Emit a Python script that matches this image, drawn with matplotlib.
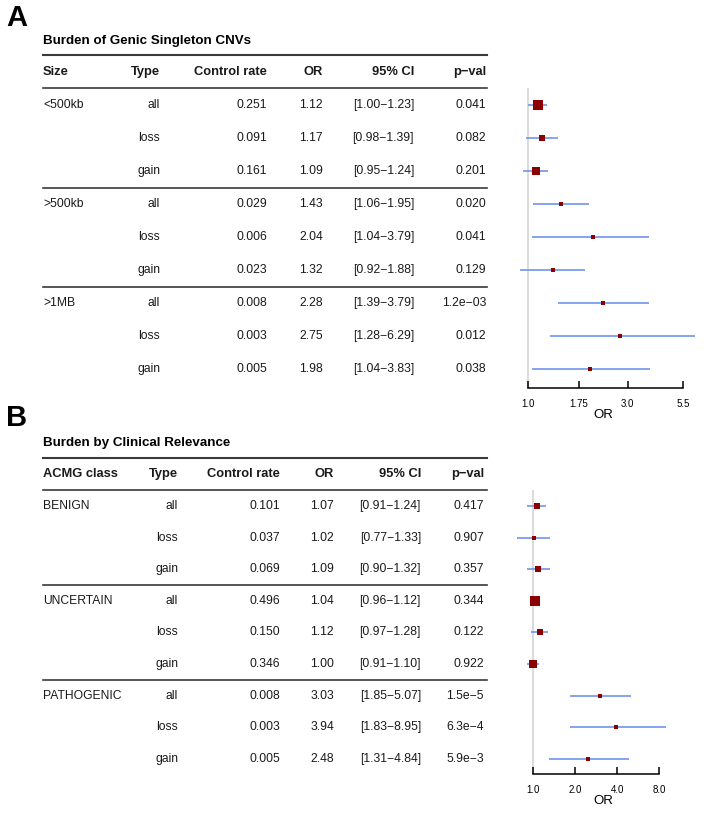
import numpy as np
import matplotlib
matplotlib.use("Agg")
import matplotlib.pyplot as plt

plt.rcParams['font.family'] = ['Liberation Sans', 'DejaVu Sans']

# ---- panel A data ----
a_groups = ["<500kb", ">500kb", ">1MB"]
a_types = ["all", "loss", "gain"] * 3
a_rate = ["0.251", "0.091", "0.161", "0.029", "0.006", "0.023", "0.008", "0.003", "0.005"]
a_or = [1.12, 1.17, 1.09, 1.43, 2.04, 1.32, 2.28, 2.75, 1.98]
a_lo = [1.00, 0.98, 0.95, 1.06, 1.04, 0.92, 1.39, 1.28, 1.04]
a_hi = [1.23, 1.39, 1.24, 1.95, 3.79, 1.88, 3.79, 6.29, 3.83]
a_p = ["0.041", "0.082", "0.201", "0.020", "0.041", "0.129", "1.2e\u221203", "0.012", "0.038"]
a_box = [10, 6.7, 8.3, 5, 4.5, 4.7, 4, 3.8, 4]   # box width in px
a_ticks = [1.0, 1.75, 3.0, 5.5]

# ---- panel B data ----
b_groups = ["BENIGN", "UNCERTAIN", "PATHOGENIC"]
b_types = ["all", "loss", "gain"] * 3
b_rate = ["0.101", "0.037", "0.069", "0.496", "0.150", "0.346", "0.008", "0.003", "0.005"]
b_or = [1.07, 1.02, 1.09, 1.04, 1.12, 1.00, 3.03, 3.94, 2.48]
b_lo = [0.91, 0.77, 0.90, 0.96, 0.97, 0.91, 1.85, 1.83, 1.31]
b_hi = [1.24, 1.33, 1.32, 1.12, 1.28, 1.10, 5.07, 8.95, 4.84]
b_p = ["0.417", "0.907", "0.357", "0.344", "0.122", "0.922", "1.5e\u22125", "6.3e\u22124", "5.9e\u22123"]
b_box = [6.3, 4.3, 5.7, 9.3, 5.3, 7.7, 4, 4, 3.7]
b_ticks = [1.0, 2.0, 4.0, 8.0]

W, H = 704, 816
fig = plt.figure(figsize=(W / 100, H / 100), dpi=100)
bg = fig.add_axes([0, 0, 1, 1])
bg.set_xlim(0, W)
bg.set_ylim(H, 0)
bg.axis("off")

LINE = "#3a3a3a"
TXT = "#1a1a1a"


def panel(label, label_y, title, title_y, top_y, head_y, row0, step,
          col1, colx, groups, types, rate, ors, lo, hi, pv, box,
          ref_x, ppl, ax_y, ticks, ax_right):
    bg.text(6, label_y, label, fontsize=21, fontweight="bold", va="center", ha="left")
    bg.text(43, title_y, title, fontsize=9.6, fontweight="bold", va="center", ha="left")
    x0, x1 = 43, 487
    bg.plot([x0, x1], [top_y, top_y], color=LINE, lw=1.5)
    hdr_line = head_y + 16
    bg.plot([x0, x1], [hdr_line, hdr_line], color=LINE, lw=1.2)
    heads = [col1, "Type", "Control rate", "OR", "95% CI", "p\u2212val"]
    for i, h in enumerate(heads):
        bg.text(43 if i == 0 else colx[i - 1], head_y, h, fontsize=9.3, fontweight="bold",
                ha="left" if i == 0 else "right", va="center", color=TXT)
    rows_y = [row0 + step * i for i in range(9)]
    for i in range(9):
        y = rows_y[i]
        if i % 3 == 0:
            bg.text(43, y, groups[i // 3], fontsize=8.7, ha="left", va="center", color=TXT)
            if i > 0:
                sy = (rows_y[i - 1] + y) / 2
                bg.plot([x0, x1], [sy, sy], color=LINE, lw=1.2)
        vals = [types[i], rate[i], "%.2f" % ors[i],
                "[%.2f\u2212%.2f]" % (lo[i], hi[i]), pv[i]]
        for cx, v in zip(colx, vals):
            bg.text(cx, y, v, fontsize=8.7, ha="right", va="center", color=TXT)

    # forest axes: left px 505, right 702
    left_px, right_px = 505, 702
    ax = fig.add_axes([left_px / W, 1 - ax_y / H, (right_px - left_px) / W, (ax_y - hdr_line) / H])
    ax.set_xscale("log")
    ax.set_xlim(np.exp((left_px - ref_x) / ppl), np.exp((right_px - ref_x) / ppl))
    ax.set_ylim((ax_y - row0) / step, (hdr_line - row0) / step)
    ax.axvline(1.0, color="#d4d4d4", lw=1.2, zorder=0)
    idx = np.arange(9)
    ax.hlines(idx, lo, hi, color="#6f95ea", lw=1.2, zorder=1)
    for i in idx:
        ax.plot(ors[i], i, marker="s", ms=box[i] * 0.72, color="#8b0000",
                mec="#8b0000", mew=0, zorder=2)
    for s in ["top", "right", "left"]:
        ax.spines[s].set_visible(False)
    ax.spines["bottom"].set_bounds(ticks[0], ax_right)
    ax.spines["bottom"].set_linewidth(1.1)
    ax.set_yticks([])
    ax.set_xticks(ticks)
    ax.set_xticklabels(["%g" % t if t != int(t) else "%.1f" % t for t in ticks], fontsize=7)
    ax.minorticks_off()
    ax.tick_params(axis="x", direction="in", length=5, width=1.1, pad=8)
    ax.set_xlabel("OR", fontsize=9.5, labelpad=0)
    ax.patch.set_alpha(0)


panel("A", 18, "Burden of Genic Singleton CNVs", 41, 55, 72, 105, 33,
      "Size", [160, 267, 323, 414, 486],
      a_groups, a_types, a_rate, a_or, a_lo, a_hi, a_p, a_box,
      528, 90.9, 388, a_ticks, 5.5)

panel("B", 418, "Burden by Clinical Relevance", 443, 458, 474, 506, 31.6,
      "ACMG class", [178, 280, 334, 421, 484],
      b_groups, b_types, b_rate, b_or, b_lo, b_hi, b_p, b_box,
      533, 60.6, 774, b_ticks, 8.0)

fig.savefig("out.png", dpi=100)
